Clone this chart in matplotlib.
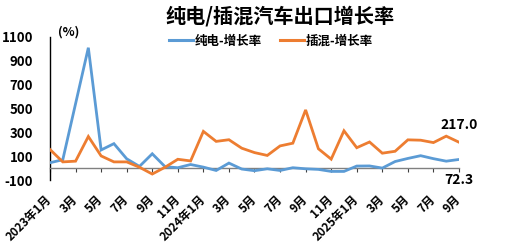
import matplotlib
matplotlib.use("Agg")
import matplotlib.pyplot as plt
from matplotlib.lines import Line2D

plt.rcParams['font.family'] = ['Noto Sans CJK SC', 'DejaVu Sans']
plt.rcParams['font.weight'] = 'bold'

months = ['2023年1月', '2月', '3月', '4月', '5月', '6月', '7月', '8月', '9月', '10月', '11月', '12月',
          '2024年1月', '2月', '3月', '4月', '5月', '6月', '7月', '8月', '9月', '10月', '11月', '12月',
          '2025年1月', '2月', '3月', '4月', '5月', '6月', '7月', '8月', '9月']
bev_growth = [45, 70, 540, 1010, 152, 205, 78, 14, 120, 12, 3, 30,
              8, -20, 42, -8, -22, -6, -20, 3, -6, -11, -28, -28,
              17, 18, 0, 55, 81, 104, 79, 58, 72.3]
phev_growth = [156, 52, 58, 265, 102, 52, 52, 7, -50, 7, 74, 60,
               308, 224, 238, 167, 130, 106, 186, 209, 488, 162, 75,
               313, 171, 219, 125, 141, 237, 234, 214, 268, 217.0]
yticks = [-100, 100, 300, 500, 700, 900, 1100]

blue = '#5B9BD5'
orange = '#ED7D31'

fig = plt.figure(figsize=(5.06, 2.45), dpi=100)
ax = fig.add_axes([50/506, 1-180/245, (459-50)/506, (180-37)/245])

x = list(range(len(months)))
ax.plot(x, bev_growth, color=blue, lw=2.0, solid_joinstyle='miter', zorder=3)
ax.plot(x, phev_growth, color=orange, lw=2.0, solid_joinstyle='miter', zorder=3)

ax.set_xlim(0, len(months)-1)
ax.set_ylim(-100, 1100)
ax.set_yticks(yticks)
ax.set_yticklabels([str(v) for v in yticks], fontsize=9.5, fontweight='bold')
ax.tick_params(axis='y', length=0, pad=12)

ax.spines['top'].set_visible(False)
ax.spines['right'].set_visible(False)
ax.spines['left'].set_color('black')
ax.spines['left'].set_linewidth(1.0)
ax.spines['bottom'].set_position(('data', 0))
ax.spines['bottom'].set_color('#808080')
ax.spines['bottom'].set_linewidth(1.0)

xt = x[::2]
ax.set_xticks(xt)
ax.set_xticklabels([months[i] for i in xt], rotation=45, ha='right', va='center',
                   rotation_mode='anchor', fontsize=8.5, fontweight='bold')
ax.tick_params(axis='x', length=3, color='#404040', pad=18, direction='out')

# data labels for last points
ax.annotate(f'{phev_growth[-1]:.1f}', (x[-1], phev_growth[-1]), xytext=(0, 17),
            textcoords='offset pixels', ha='center', va='center', fontsize=10, fontweight='bold')
ax.annotate(f'{bev_growth[-1]:.1f}', (x[-1], bev_growth[-1]), xytext=(0, -21),
            textcoords='offset pixels', ha='center', va='center', fontsize=10, fontweight='bold')

fig.text(58/506, 1-32/245, '(%)', fontsize=9, fontweight='bold', ha='left', va='center')
fig.text(280/506, 1-16/245, '纯电/插混汽车出口增长率', fontsize=14.5, fontweight='bold',
         ha='center', va='center')

handles = [Line2D([], [], color=blue, lw=2.2), Line2D([], [], color=orange, lw=2.2)]
fig.legend(handles, ['纯电-增长率', '插混-增长率'], loc='center', bbox_to_anchor=(271/506, 1-41/245),
           ncol=2, frameon=False, fontsize=9, handlelength=1.9, handletextpad=0.2,
           columnspacing=1.4, prop={'weight': 'bold', 'size': 9})

fig.savefig('out.png', dpi=100)
